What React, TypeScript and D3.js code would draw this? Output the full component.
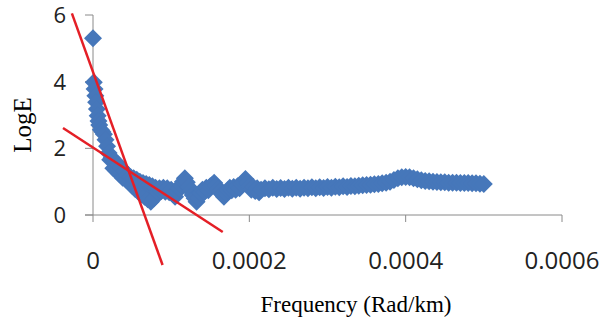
import React from 'react';
import * as d3 from 'd3';

// Frequency in units of 1e-6 Rad/km, with matching LogE values (row by row)
const frequencyMicro = [
  0, 1, 2, 3, 4, 5, 6, 7, 8, 10, 12, 14, 16, 18, 20, 22,
  24, 26, 28, 30, 32, 34, 36, 38, 40, 42, 44, 46, 48, 50, 52, 54,
  56, 58, 60, 62, 64, 66, 68, 70, 72, 74, 76, 78, 80,
  82.5, 85, 87.5, 90, 92.5, 95, 97.5, 100, 102.5, 105, 107.5, 110, 112.5, 115, 117.5, 120,
  122.5, 125, 127.5, 130, 132.5, 135, 137.5, 140, 142.5, 145, 147.5, 150, 152.5, 155, 157.5, 160,
  162.5, 165, 167.5, 170, 172.5, 175, 177.5, 180, 182.5, 185, 187.5, 190, 192.5, 195, 197.5, 200,
  202.5, 205, 207.5, 210, 212.5, 215,
  220, 225, 230, 235, 240, 245, 250, 255, 260, 265, 270, 275, 280, 285, 290, 295,
  300, 305, 310, 315, 320, 325, 330, 335, 340, 345, 350, 355, 360, 365, 370, 375,
  380, 385, 390, 395, 400, 405, 410, 415, 420, 425, 430, 435, 440, 445, 450, 455,
  460, 465, 470, 475, 480, 485, 490, 495, 500,
];
const logE = [
  5.30, 3.98, 3.78, 3.58, 3.38, 3.18, 2.98, 2.82, 2.70, 2.56, 2.50, 2.42, 2.26, 2.06, 1.86, 1.66,
  1.72, 1.40, 1.62, 1.32, 1.52, 1.22, 1.42, 1.12, 1.32, 1.06, 1.20, 0.98, 1.14, 0.88, 1.10, 0.78,
  1.06, 0.70, 1.00, 0.62, 0.96, 0.55, 0.93, 0.47, 0.90, 0.40, 0.86, 0.50, 0.82,
  0.70, 0.80, 0.72, 0.82, 0.70, 0.80, 0.68, 0.76, 0.62, 0.55, 0.70, 0.80, 0.90, 1.00, 1.10, 0.98,
  0.84, 0.72, 0.60, 0.50, 0.40, 0.52, 0.66, 0.76, 0.70, 0.82, 0.74, 0.86, 0.90, 0.97, 0.88, 0.78,
  0.70, 0.62, 0.55, 0.64, 0.74, 0.82, 0.74, 0.84, 0.76, 0.86, 0.80, 0.92, 1.00, 1.08, 0.96, 0.86,
  0.76, 0.84, 0.72, 0.80, 0.68, 0.76,
  0.80, 0.77, 0.82, 0.78, 0.81, 0.78, 0.82, 0.79, 0.82, 0.79, 0.82, 0.80, 0.83, 0.80, 0.83, 0.81,
  0.84, 0.82, 0.85, 0.83, 0.86, 0.84, 0.87, 0.86, 0.88, 0.89, 0.90, 0.91, 0.92, 0.93, 0.95, 0.97,
  1.00, 1.05, 1.10, 1.13, 1.14, 1.13, 1.10, 1.07, 1.04, 1.02, 1.01, 1.00, 0.99, 0.98, 0.98, 0.97,
  0.97, 0.97, 0.96, 0.96, 0.96, 0.95, 0.95, 0.94, 0.93,
];

const xTicks = [0, 0.0002, 0.0004, 0.0006];
const xTickLabels = ['0', '0.0002', '0.0004', '0.0006'];
const yTicks = [0, 2, 4, 6];
const yTickLabels = ['0', '2', '4', '6'];

// Trend lines (endpoints in data units)
const steepTrendFreq = [-0.000027, 0.000089];
const steepTrendLogE = [6.05, -1.5];
const shallowTrendFreq = [-0.0000384, 0.000166];
const shallowTrendLogE = [2.61, -0.51];

const xTitle = 'Frequency (Rad/km)';
const yTitle = 'LogE';

export default function App() {
  const x = d3.scaleLinear().domain([0, 0.0006]).range([93, 562]);
  const y = d3.scaleLinear().domain([0, 6]).range([215, 15]);
  const diamond = d3.symbol().type(d3.symbolSquare).size(162)() as string;
  const line = d3
    .line<[number, number]>()
    .x((d) => x(d[0]))
    .y((d) => y(d[1]));
  const steep = line(steepTrendFreq.map((f, i) => [f, steepTrendLogE[i]] as [number, number]));
  const shallow = line(shallowTrendFreq.map((f, i) => [f, shallowTrendLogE[i]] as [number, number]));
  const axisColor = '#8a8a8a';
  const tickFont = "'Open Sans', 'Liberation Sans', sans-serif";
  const serif = "'Liberation Serif', 'Times New Roman', serif";
  const n = Math.min(frequencyMicro.length, logE.length);

  return (
    <svg
      width={610}
      height={325}
      style={{ position: 'absolute', left: 0, top: 0, background: '#fff' }}
    >
      <rect x={0} y={0} width={610} height={325} fill="#fff" />
      {/* Axes */}
      <line x1={x(0)} x2={x(0)} y1={y(6)} y2={y(0)} stroke={axisColor} strokeWidth={1} />
      <line x1={x(0) - 8} x2={x(0.0006)} y1={y(0)} y2={y(0)} stroke={axisColor} strokeWidth={1} />
      {yTicks.map((t) => (
        <line key={'yt' + t} x1={x(0) - 8} x2={x(0)} y1={y(t)} y2={y(t)} stroke={axisColor} strokeWidth={1} />
      ))}
      {xTicks.map((t) => (
        <line key={'xt' + t} x1={x(t)} x2={x(t)} y1={y(0)} y2={y(0) + 7} stroke={axisColor} strokeWidth={1} />
      ))}
      {yTicks.map((t, i) => (
        <text
          key={'yl' + t}
          x={66}
          y={y(t) + 8}
          textAnchor="end"
          fontFamily={tickFont}
          fontSize={22}
          fill="#222"
        >
          {yTickLabels[i]}
        </text>
      ))}
      {xTicks.map((t, i) => (
        <text
          key={'xl' + t}
          x={x(t)}
          y={269}
          textAnchor="middle"
          fontFamily={tickFont}
          fontSize={24}
          fill="#222"
        >
          {xTickLabels[i]}
        </text>
      ))}
      {/* Scatter */}
      <g fill="#4677BA">
        {frequencyMicro.slice(0, n).map((f, i) => (
          <path
            key={'p' + i}
            d={diamond}
            transform={`translate(${x(f * 1e-6)},${y(logE[i])}) rotate(45)`}
          />
        ))}
      </g>
      {/* Trend lines */}
      <path d={steep ?? ''} stroke="#E41F26" strokeWidth={2.5} fill="none" />
      <path d={shallow ?? ''} stroke="#E41F26" strokeWidth={2.5} fill="none" />
      {/* Titles */}
      <text
        x={356}
        y={312}
        textAnchor="middle"
        fontFamily={serif}
        fontSize={23}
        fill="#000"
      >
        {xTitle}
      </text>
      <text
        transform="translate(31,125) rotate(-90)"
        textAnchor="middle"
        fontFamily={serif}
        fontSize={25}
        fill="#000"
      >
        {yTitle}
      </text>
    </svg>
  );
}
